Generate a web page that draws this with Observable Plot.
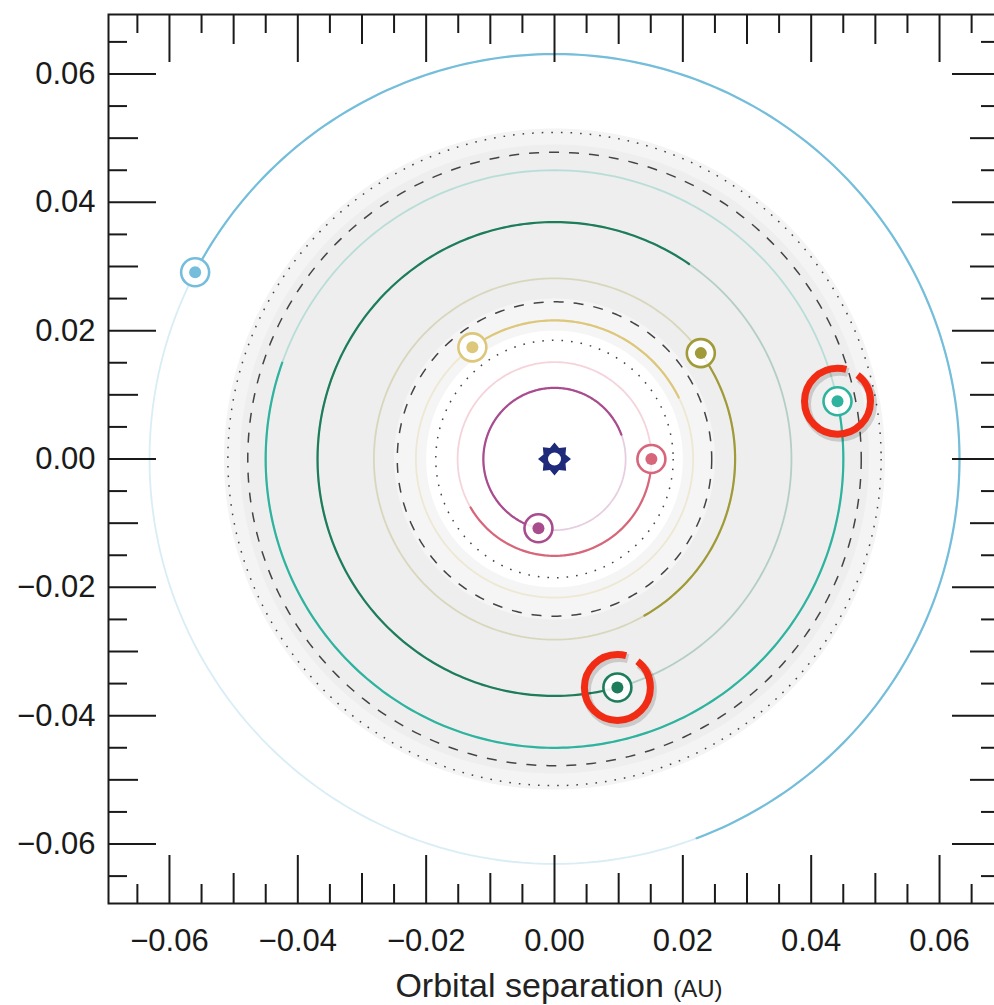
<!DOCTYPE html>
<html><head><meta charset="utf-8">
<script src="https://cdn.jsdelivr.net/npm/d3@7"></script>
<script src="https://cdn.jsdelivr.net/npm/@observablehq/plot@0.6"></script>
<style>
html,body{margin:0;padding:0;background:#fff;overflow:hidden}
#title{width:1118px;text-align:center;font-family:"Liberation Sans",Arial,sans-serif;font-size:34px;color:#222;padding-top:2px;line-height:36px;white-space:nowrap}
#title .sc{font-size:24px}
</style></head><body><div id="chart"></div><div id="title">Orbital separation <span class="sc">(AU)</span></div>
<script>
// ---- data ----
const majorTicks = [-0.06, -0.04, -0.02, 0, 0.02, 0.04, 0.06];
const mediumTicks = [-0.05, -0.03, -0.01, 0.01, 0.03, 0.05];
const minorTicks = [-0.065, -0.055, -0.045, -0.035, -0.025, -0.015, -0.005, 0.005, 0.015, 0.025, 0.035, 0.045, 0.055, 0.065];

const planets = ["b", "c", "d", "e", "f", "g", "h"];
const planetX = [-0.0025, 0.0151, -0.0128, 0.0228, 0.0098, 0.0441, -0.0560];
const planetY = [-0.0108, 0.0000, 0.0174, 0.0165, -0.0356, 0.0090, 0.0291];
const trailSpanDeg = [237, 150, 100, 96, 230, 211, 222]; // trail drawn clockwise behind each planet
const highlighted = ["f", "g"];

const star = [{x: 0, y: 0}];
const zoneRadii = [0.0185, 0.0245, 0.0478, 0.0509];
const zoneKinds = ["dotted", "dashed", "dashed", "dotted"];
const shadeRadii = [0.0515, 0.0490, 0.0250, 0.0200];

// ---- derived ----
function arcPoints(r, startDeg, spanDeg, n, extra) {
  const pts = [];
  for (let i = 0; i <= n; i++) {
    const a = (startDeg - spanDeg * i / n) * Math.PI / 180;
    pts.push({x: r * Math.cos(a), y: r * Math.sin(a), ...extra});
  }
  return pts;
}
const planetData = planets.map((p, i) => ({planet: p, x: planetX[i], y: planetY[i],
  r: Math.hypot(planetX[i], planetY[i]), a: Math.atan2(planetY[i], planetX[i]) * 180 / Math.PI, span: trailSpanDeg[i]}));
const orbitData = planetData.flatMap(d => arcPoints(d.r, 0, 360, 240, {planet: d.planet}));
const trailData = planetData.flatMap(d => arcPoints(d.r, d.a, d.span, Math.ceil(d.span), {planet: d.planet}));
const highlightData = planetData.filter(d => highlighted.includes(d.planet));

const planetColors = ["#a84c8e", "#d8667a", "#dcc77a", "#a09a38", "#1d7d5a", "#2db39e", "#74bedb"];
const shadeFills = ["#f4f4f4", "#eeeeee", "#f5f5f5", "#ffffff"];

const gear = {
  draw(ctx, size) {
    const R = Math.sqrt(size / Math.PI), n = 8;
    for (let i = 0; i < 2 * n; i++) {
      const a = i * Math.PI / n - Math.PI / 2;
      const rr = i % 2 === 0 ? R : R * 0.72;
      const px = rr * Math.cos(a), py = rr * Math.sin(a);
      if (i === 0) ctx.moveTo(px, py); else ctx.lineTo(px, py);
    }
    ctx.closePath();
  }
};

const H = 965, W = 994, mL = 108, mR = -6, mT = 14, mB = 62;
const fh = H - mT - mB, fw = W - mL - mR;
const tickStyle = {stroke: "#1a1a1a", strokeWidth: 2};
const L = 2 * Math.PI * 33;

const marks = [];
shadeRadii.forEach((r, i) => marks.push(Plot.line(arcPoints(r, 0, 360, 360), {x: "x", y: "y", fill: shadeFills[i], stroke: "none"})));
marks.push(Plot.line(orbitData, {x: "x", y: "y", z: "planet", stroke: "planet", strokeOpacity: 0.28, strokeWidth: 1.8}));
zoneRadii.forEach((r, i) => marks.push(Plot.line(arcPoints(r, 0, 360, 360), {x: "x", y: "y", stroke: "#444", strokeWidth: 1.5,
  strokeLinecap: "butt", strokeDasharray: zoneKinds[i] === "dotted" ? "1.6,8" : "10,10"})));
marks.push(Plot.line(trailData, {x: "x", y: "y", z: "planet", stroke: "planet", strokeWidth: 2.2}));
marks.push(Plot.dot(star, {x: "x", y: "y", r: 16.5, symbol: gear, fill: "#1f2a7a", stroke: "none"}));
marks.push(Plot.dot(star, {x: "x", y: "y", r: 6.5, fill: "white"}));
marks.push(Plot.dot(planetData, {x: "x", y: "y", r: 14, fill: "white", fillOpacity: 0.9, stroke: "planet", strokeWidth: 2.6}));
marks.push(Plot.dot(planetData, {x: "x", y: "y", r: 6, fill: "planet"}));
const dash = `${L * 285 / 360},${L * 22 / 360},${L * 53 / 360}`;
marks.push(Plot.dot(highlightData, {x: "x", y: "y", r: 33, stroke: "#000", strokeOpacity: 0.15, strokeWidth: 9, dx: 2, dy: 3, strokeDasharray: dash}));
marks.push(Plot.dot(highlightData, {x: "x", y: "y", r: 33, stroke: "#f22b14", strokeWidth: 7, strokeDasharray: dash}));
// frame ticks
[[majorTicks, 48], [mediumTicks, 30], [minorTicks, 19]].forEach(([t, len]) => {
  marks.push(Plot.tickX(t, {x: d => d, insetTop: fh - len, ...tickStyle}));
  marks.push(Plot.tickX(t, {x: d => d, insetBottom: fh - len, ...tickStyle}));
  marks.push(Plot.tickY(t, {y: d => d, insetRight: fw - len, ...tickStyle}));
  marks.push(Plot.tickY(t, {y: d => d, insetLeft: fw - len, ...tickStyle}));
});
marks.push(Plot.frame({stroke: "#1a1a1a", strokeWidth: 2}));

const fmt = d3.format(".2f");
const chart = Plot.plot({
  width: W, height: H, marginLeft: mL, marginRight: mR, marginTop: mT, marginBottom: mB,
  x: {domain: [-0.0695, 0.0695], ticks: majorTicks, tickFormat: fmt, tickSize: 0, tickPadding: 25, label: null},
  y: {domain: [-0.06927, 0.06927], ticks: majorTicks, tickFormat: fmt, tickSize: 0, tickPadding: 13, label: null},
  color: {domain: planets, range: planetColors},
  style: {fontFamily: "'Liberation Sans', Arial, sans-serif", fontSize: "31px", color: "#1a1a1a", background: "#fff"},
  marks
});
document.getElementById("chart").appendChild(chart);
</script></body></html>
